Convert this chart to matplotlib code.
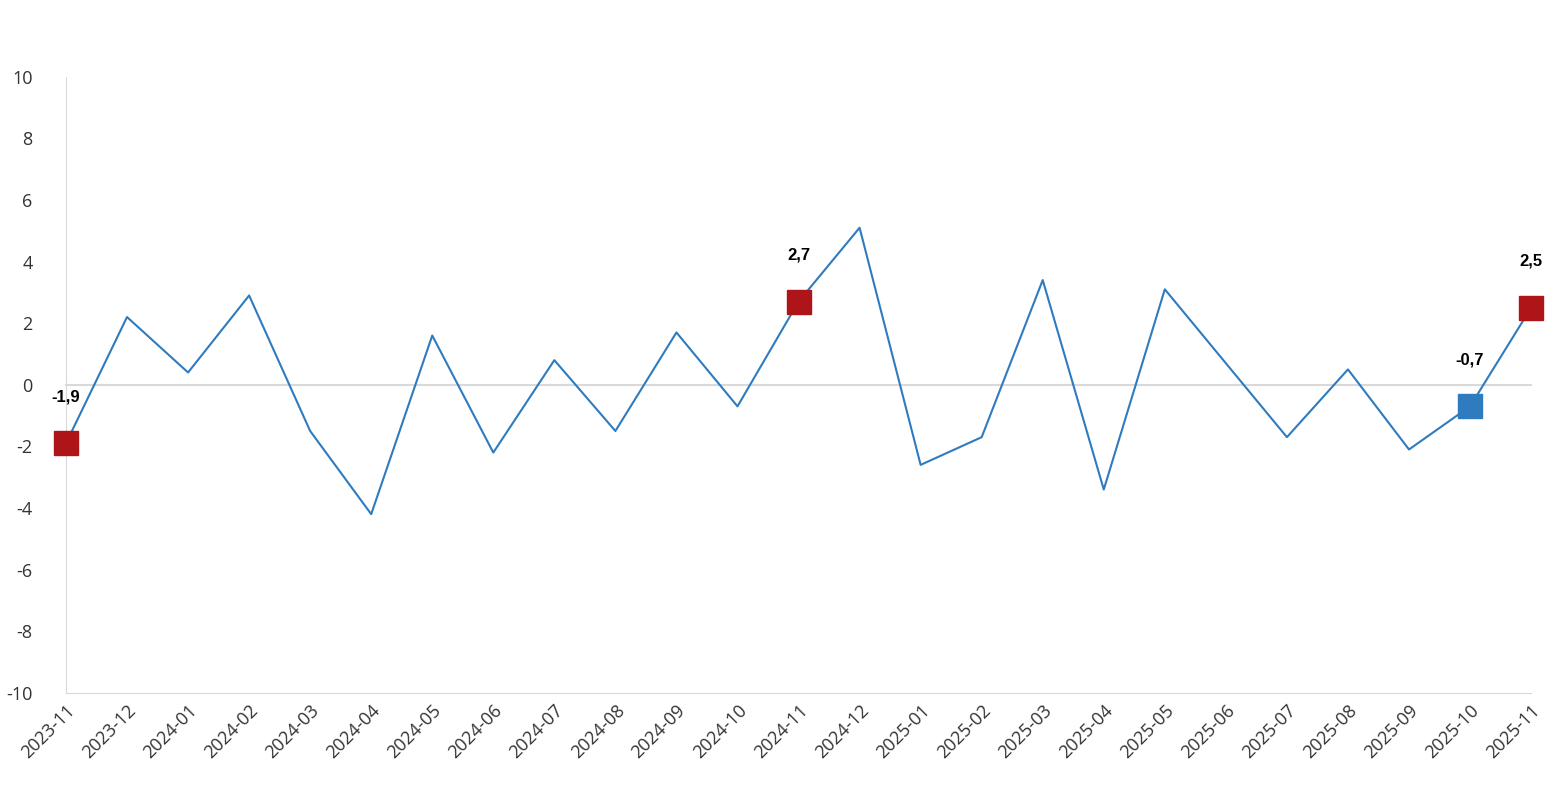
import matplotlib
matplotlib.use("Agg")
import matplotlib.pyplot as plt

plt.rcParams['font.family'] = ['Open Sans', 'DejaVu Sans']
plt.rcParams['axes.unicode_minus'] = False

months = ["2023-11","2023-12","2024-01","2024-02","2024-03","2024-04","2024-05","2024-06",
          "2024-07","2024-08","2024-09","2024-10","2024-11","2024-12","2025-01","2025-02",
          "2025-03","2025-04","2025-05","2025-06","2025-07","2025-08","2025-09","2025-10","2025-11"]
values = [-1.9, 2.2, 0.4, 2.9, -1.5, -4.2, 1.6, -2.2, 0.8, -1.5, 1.7, -0.7, 2.7, 5.1,
          -2.6, -1.7, 3.4, -3.4, 3.1, 0.7, -1.7, 0.5, -2.1, -0.7, 2.5]
highlight = {0: "#AE1519", 12: "#AE1519", 23: "#2E7BBF", 24: "#AE1519"}
labels = {0: "-1,9", 12: "2,7", 23: "-0,7", 24: "2,5"}

fig = plt.figure(figsize=(15.56, 8), dpi=100)
ax = fig.add_axes([0.0424, 0.134, 0.9416, 0.770])
x = list(range(len(months)))
ax.plot(x, values, color="#2E7BBF", lw=1.5, zorder=2)
ax.axhline(0, color="#D9D9D9", lw=1.5, zorder=1)
for i, c in highlight.items():
    ax.plot(x[i], values[i], marker="s", ms=17, color=c, zorder=3, ls="none")
    ax.annotate(labels[i], (x[i], values[i]), xytext=(0, 28), textcoords="offset points",
                ha="center", va="bottom", fontsize=12, fontweight="bold",
                family=["Liberation Sans", "DejaVu Sans"])
ax.set_xlim(0, len(months) - 1)
ax.set_ylim(-10, 10)
ax.set_yticks(range(-10, 11, 2))
ax.set_xticks(x)
ax.set_xticklabels(months, rotation=45, ha="right", rotation_mode="anchor", fontsize=13, color="#333333")
ax.tick_params(axis="y", labelsize=13, colors="#333333", length=0, pad=24)
ax.tick_params(axis="x", length=0, pad=6)
for s in ["top", "right"]:
    ax.spines[s].set_visible(False)
ax.spines["left"].set_color("#D9D9D9")
ax.spines["bottom"].set_color("#D9D9D9")
for l in ax.lines:
    l.set_clip_on(False)
fig.savefig("out.png", dpi=100)
